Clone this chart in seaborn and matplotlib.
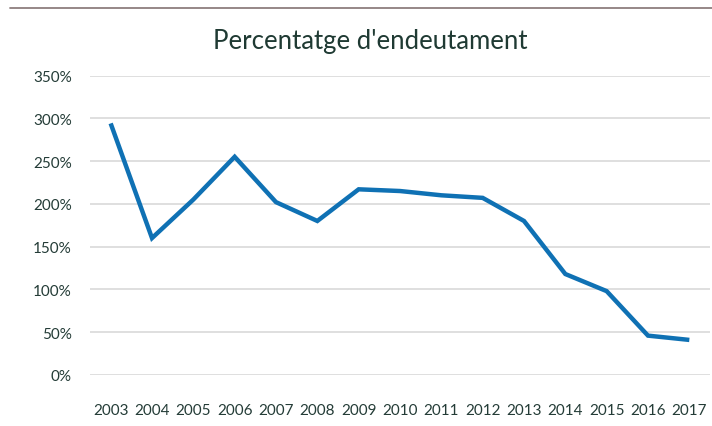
import matplotlib
matplotlib.use("Agg")
import matplotlib.pyplot as plt
import seaborn as sns
import pandas as pd
from matplotlib.lines import Line2D
from matplotlib.ticker import FuncFormatter

years = [2003, 2004, 2005, 2006, 2007, 2008, 2009, 2010, 2011, 2012, 2013, 2014, 2015, 2016, 2017]
debt_pct = [294, 160, 205, 255, 202, 180, 217, 215, 210, 207, 180, 118, 98, 46, 41]
y_ticks = [0, 50, 100, 150, 200, 250, 300, 350]
title = "Percentatge d'endeutament"

sns.set_theme(style="white")
plt.rcParams['font.family'] = ['Lato', 'DejaVu Sans']

df = pd.DataFrame({"year": years, "pct": debt_pct})

fig = plt.figure(figsize=(7.12, 4.27), dpi=100)
ax = fig.add_axes([90/712, 51/427, 620/712, 299.5/427])

for v in y_ticks:
    ax.axhline(v, color="#dcdcdc", lw=1.3, zorder=0)

sns.lineplot(data=df, x="year", y="pct", ax=ax, color="#0f71b4", lw=3.2,
             solid_capstyle="butt", solid_joinstyle="miter")

ax.set_xlim(years[0] - 0.5, years[-1] + 0.5)
ax.set_ylim(0, 350)
ax.set_xticks(years)
ax.set_xticklabels([str(y) for y in years])
ax.set_yticks(y_ticks)
ax.yaxis.set_major_formatter(FuncFormatter(lambda v, p: f"{int(v)}%"))
ax.tick_params(axis="x", length=0, pad=20, labelsize=11, labelcolor="#243c37")
ax.tick_params(axis="y", length=0, pad=13, labelsize=11, labelcolor="#243c37")
ax.set_xlabel("")
ax.set_ylabel("")
for s in ax.spines.values():
    s.set_visible(False)

fig.text(370/712, 1 - 41/427, title, ha="center", va="center",
         fontsize=18.5, color="#1f3a33")

fig.add_artist(Line2D([10/712, 1.0], [1 - 9/427, 1 - 9/427],
                      transform=fig.transFigure, color="#8e7e7e", lw=1.3))

fig.savefig("out.png", dpi=100)
